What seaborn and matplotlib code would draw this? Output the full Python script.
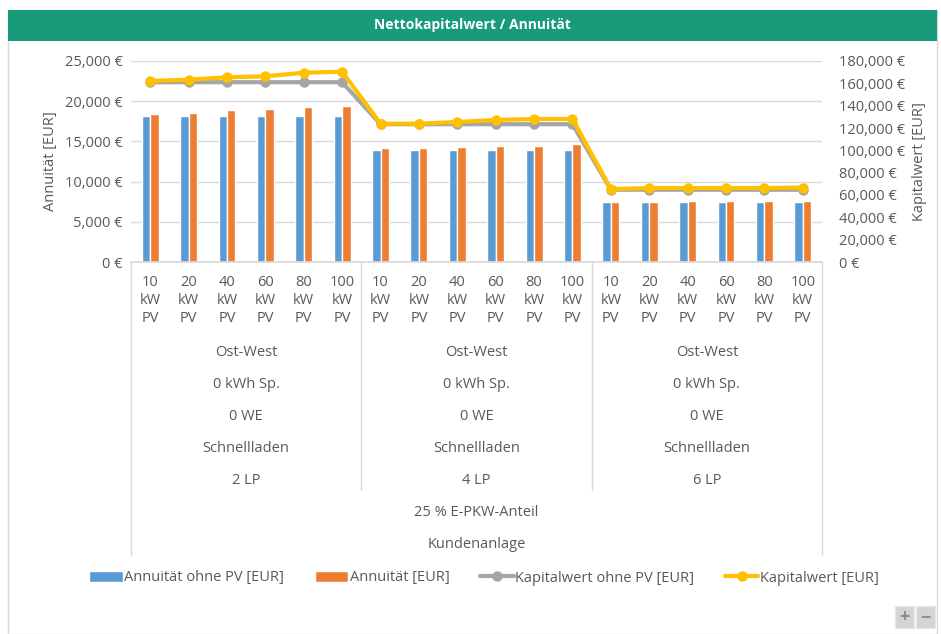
import matplotlib
matplotlib.use("Agg")
import matplotlib.pyplot as plt
import matplotlib.transforms as mtransforms
from matplotlib.patches import Patch, Rectangle
from matplotlib.lines import Line2D
from matplotlib.ticker import FuncFormatter, MultipleLocator
import pandas as pd
import seaborn as sns

# Daten
pv_labels = ["10", "20", "40", "60", "80", "100"] * 3
lp_groups = ["2 LP", "4 LP", "6 LP"]
group_rows = ["Ost-West", "0 kWh Sp.", "0 WE", "Schnellladen"]
outer_rows = ["25 % E-PKW-Anteil", "Kundenanlage"]

annuitaet_ohne_pv = [18200, 18200, 18200, 18200, 18200, 18200,
                     13950, 13950, 13950, 13950, 13950, 13950,
                     7450, 7450, 7450, 7450, 7450, 7450]
annuitaet = [18380, 18540, 18870, 19040, 19250, 19410,
             14160, 14160, 14360, 14480, 14480, 14650,
             7450, 7450, 7610, 7610, 7610, 7610]
kapital_ohne_pv = [161000, 161000, 161000, 161000, 161000, 161000,
                   123400, 123400, 123400, 123400, 123400, 123400,
                   64700, 64700, 64700, 64700, 64700, 64700]
kapital = [162100, 163300, 165400, 166300, 169500, 170400,
           123900, 123900, 125400, 127200, 128100, 128100,
           65300, 66200, 66200, 66200, 66200, 66700]

series_bar = ["Annuität ohne PV [EUR]", "Annuität [EUR]"]
series_line = ["Kapitalwert ohne PV [EUR]", "Kapitalwert [EUR]"]

blau, orange, grau, gelb = "#5B9BD5", "#ED7D31", "#A5A5A5", "#FFC000"
txt = "#595959"
linie = "#D9D9D9"
fs = 10.5

pos = list(range(len(pv_labels)))
df_bar = pd.DataFrame({
    "pos": pos * 2,
    "wert": annuitaet_ohne_pv + annuitaet,
    "serie": [series_bar[0]] * len(pos) + [series_bar[1]] * len(pos),
})
df_line = pd.DataFrame({
    "pos": pos * 2,
    "wert": kapital_ohne_pv + kapital,
    "serie": [series_line[0]] * len(pos) + [series_line[1]] * len(pos),
})

sns.set_theme(style="white")
plt.rcParams["font.family"] = ["Open Sans", "DejaVu Sans"]

W, H = 941, 634
fig = plt.figure(figsize=(W / 100, H / 100), dpi=100)


def fy(y):
    return 1 - y / H


# Rahmen und Titelleiste
fig.patches.append(Rectangle((8 / W, 0), 929 / W, fy(10), transform=fig.transFigure,
                             facecolor="none", edgecolor=linie, lw=1))
fig.patches.append(Rectangle((8 / W, fy(41)), 929 / W, 31 / H, transform=fig.transFigure,
                             facecolor="#179B7B", edgecolor="none"))
fig.text(472 / W, fy(25.5), "Nettokapitalwert / Annuität", color="white",
         fontsize=10, fontweight="bold", ha="center", va="center")

ax = fig.add_axes([131 / W, fy(262), 691 / W, 201 / H])
ax.set_facecolor("none")

sns.barplot(data=df_bar, x="pos", y="wert", hue="serie", hue_order=series_bar,
            palette=[blau, orange], width=0.44, saturation=1, legend=False, ax=ax)
ax.set_ylim(0, 25000)
ax.yaxis.set_major_locator(MultipleLocator(5000))
ax.yaxis.set_major_formatter(FuncFormatter(lambda v, p: f"{v:,.0f} €"))
ax.grid(axis="y", color=linie, lw=1)
ax.set_axisbelow(True)
ax.set_xlabel("")
ax.set_ylabel("Annuität [EUR]", color=txt, fontsize=fs, labelpad=5)
ax.set_xticks(pos)
ax.set_xticklabels([])
ax.set_xlim(-0.5, len(pos) - 0.5)
for s in ["left", "right", "top"]:
    ax.spines[s].set_visible(False)
ax.spines["bottom"].set_color(linie)
ax.tick_params(axis="both", length=0, colors=txt, labelsize=fs, pad=6)

ax2 = ax.twinx()
sns.lineplot(data=df_line, x="pos", y="wert", hue="serie", hue_order=series_line,
             palette=[grau, gelb], marker="o", markersize=7.5, markeredgewidth=0,
             lw=3, legend=False, ax=ax2)
ax2.set_ylim(0, 180000)
ax2.yaxis.set_major_locator(MultipleLocator(20000))
ax2.yaxis.set_major_formatter(FuncFormatter(lambda v, p: f"{v:,.0f} €"))
ax2.set_xlim(-0.5, len(pos) - 0.5)
ax2.set_xlabel("")
ax2.set_ylabel("Kapitalwert [EUR]", color=txt, fontsize=fs, labelpad=5)
for s in ["left", "right", "top", "bottom"]:
    ax2.spines[s].set_visible(False)
ax2.tick_params(axis="y", length=0, colors=txt, labelsize=fs, pad=12)
ax2.grid(False)

# Mehrstufige Kategorienbeschriftung
tr = mtransforms.blended_transform_factory(ax.transData, fig.transFigure)
for i, lab in enumerate(pv_labels):
    for y, t in zip([283, 301, 319], [lab, "kW", "PV"]):
        ax.text(i, fy(y), t, transform=tr, ha="center", va="center",
                color=txt, fontsize=fs)

for g, lp in enumerate(lp_groups):
    xc = g * 6 + 2.5
    for y, t in zip([352, 384, 416, 448, 480], group_rows + [lp]):
        ax.text(xc, fy(y), t, transform=tr, ha="center", va="center",
                color=txt, fontsize=fs)

for y, t in zip([512, 545], outer_rows):
    ax.text((len(pos) - 1) / 2, fy(y), t, transform=tr, ha="center", va="center",
            color=txt, fontsize=fs)

for xs in [5.5, 11.5]:
    ax.add_line(Line2D([xs, xs], [fy(262), fy(490)], transform=tr, color=linie,
                       lw=1, clip_on=False))
for xs in [-0.5, len(pos) - 0.5]:
    ax.add_line(Line2D([xs, xs], [fy(262), fy(555)], transform=tr, color=linie,
                       lw=1, clip_on=False))

# Legende
handles = [
    Patch(facecolor=blau, label=series_bar[0]),
    Patch(facecolor=orange, label=series_bar[1]),
    Line2D([], [], color=grau, lw=3, marker="o", markersize=6.5, label=series_line[0]),
    Line2D([], [], color=gelb, lw=3, marker="o", markersize=6.5, label=series_line[1]),
]
leg = fig.legend(handles=handles, loc="center", bbox_to_anchor=(484 / W, fy(578)),
                 ncol=4, frameon=False, fontsize=fs, handlelength=2.3,
                 handleheight=0.7, handletextpad=0.1, columnspacing=2.1)
for t in leg.get_texts():
    t.set_color(txt)

# Zoom-Knöpfe
for x0, sym in [(895, "+"), (916, "−")]:
    fig.patches.append(Rectangle((x0 / W, fy(628)), 19 / W, 22 / H,
                                 transform=fig.transFigure, facecolor="#D4D4D4",
                                 edgecolor="#E8E8E8", lw=1))
    fig.text((x0 + 9.5) / W, fy(617), sym, color="#8C8C8C", fontsize=13,
             fontweight="bold", ha="center", va="center")

fig.savefig("out.png", dpi=100)
